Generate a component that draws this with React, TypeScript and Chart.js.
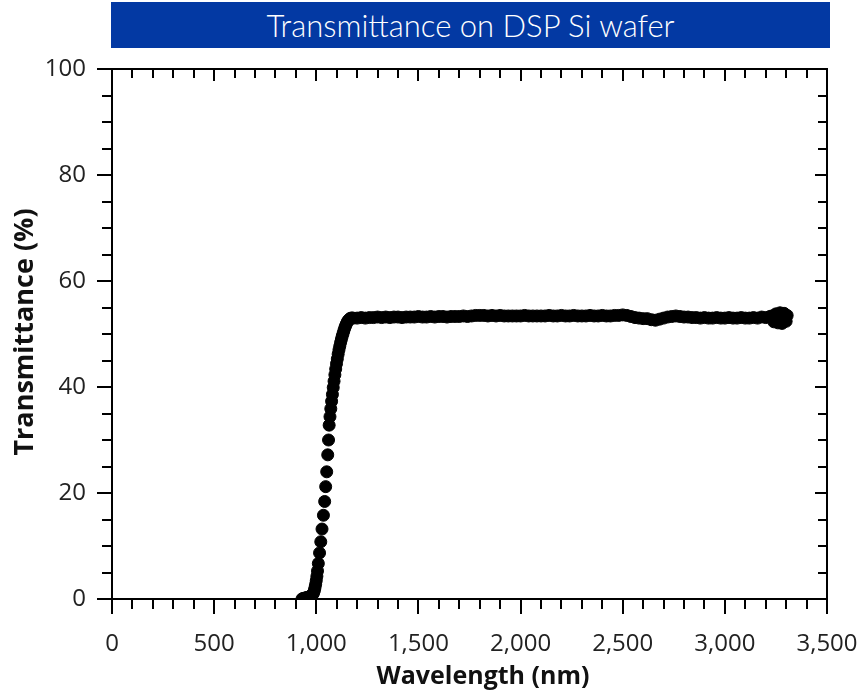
import React, { useEffect, useRef } from "react";
import { Chart, registerables } from "chart.js";

Chart.register(...registerables);

const TITLE = "Transmittance on DSP Si wafer";
const X_TITLE = "Wavelength (nm)";
const Y_TITLE = "Transmittance (%)";

const X_MIN = 0;
const X_MAX = 3500;
const X_MAJOR = 500;
const X_MINOR = 100;
const Y_MIN = 0;
const Y_MAX = 100;
const Y_MAJOR = 20;
const Y_MINOR = 5;

// absorption edge
const riseWavelengths = [
  930, 935, 940, 945, 950, 955, 960, 965, 970, 975, 980, 985, 988, 991, 994, 997, 1000, 1003, 1006,
  1010, 1016, 1022, 1028, 1035, 1041, 1046, 1051, 1056, 1060, 1063,
  1067, 1071, 1075, 1079, 1083, 1087, 1091, 1095, 1099, 1103, 1107, 1111, 1115, 1119, 1123, 1127,
  1131, 1135, 1139, 1143, 1147, 1151, 1155, 1160, 1165, 1170, 1175,
];
const riseValues = [
  0.0, 0.1, 0.1, 0.2, 0.2, 0.3, 0.3, 0.4, 0.5, 0.6, 0.8, 1.0, 1.3, 1.7, 2.2, 2.8, 3.5, 4.3, 5.3,
  6.7, 8.7, 10.8, 13.2, 15.8, 18.4, 21.2, 24.0, 27.2, 30.0, 32.8,
  34.4, 35.9, 37.3, 38.6, 39.9, 41.1, 42.3, 43.4, 44.4, 45.3, 46.2, 47.0, 47.7, 48.4, 49.0, 49.6,
  50.1, 50.6, 51.1, 51.5, 51.9, 52.2, 52.5, 52.7, 52.9, 53.0, 53.0,
];

// transparent plateau
const plateauWavelengths = [
  1180, 1200, 1220, 1240, 1260, 1280, 1300, 1320, 1340, 1360, 1380, 1400, 1420, 1440, 1460, 1480,
  1500, 1520, 1540, 1560, 1580, 1600, 1620, 1640, 1660, 1680, 1700, 1720, 1740, 1760, 1780, 1800,
  1820, 1840, 1860, 1880, 1900, 1920, 1940, 1960, 1980, 2000, 2020, 2040, 2060, 2080, 2100, 2120,
  2140, 2160, 2180, 2200, 2220, 2240, 2260, 2280, 2300, 2320, 2340, 2360, 2380, 2400, 2420, 2440,
  2460, 2480, 2500, 2520, 2540, 2560, 2580, 2600, 2620, 2640, 2660, 2680, 2700, 2720, 2740, 2760,
  2780, 2800, 2820, 2840, 2860, 2880, 2900, 2920, 2940, 2960, 2980, 3000, 3020, 3040, 3060, 3080,
  3100, 3120, 3140, 3160, 3180, 3200, 3220,
];
const plateauValues = [
  53.0, 53.0, 53.1, 53.0, 53.1, 53.1, 53.2, 53.1, 53.2, 53.1, 53.2, 53.2, 53.1, 53.2, 53.2, 53.2,
  53.3, 53.2, 53.2, 53.3, 53.2, 53.3, 53.3, 53.2, 53.3, 53.3, 53.3, 53.4, 53.3, 53.4, 53.5, 53.5,
  53.5, 53.4, 53.5, 53.4, 53.5, 53.4, 53.4, 53.4, 53.4, 53.4, 53.5, 53.4, 53.4, 53.4, 53.4, 53.4,
  53.5, 53.4, 53.4, 53.5, 53.4, 53.4, 53.5, 53.4, 53.4, 53.4, 53.5, 53.4, 53.4, 53.5, 53.4, 53.4,
  53.5, 53.5, 53.6, 53.5, 53.3, 53.1, 53.0, 52.9, 52.9, 52.7, 52.6, 52.8, 53.0, 53.2, 53.3, 53.4,
  53.3, 53.2, 53.2, 53.1, 53.1, 53.0, 53.1, 53.0, 53.0, 53.1, 53.0, 53.0, 53.1, 53.0, 53.0, 53.1,
  53.0, 53.0, 53.1, 53.0, 53.2, 53.1, 53.3,
];

// noisy detector end
const tailWavelengths = [3230, 3240, 3250, 3260, 3270, 3280, 3290, 3300, 3305];
const tailValues = [53.4, 52.3, 53.8, 52.1, 54.0, 52.0, 53.9, 52.4, 53.5];

const wavelengths = [...riseWavelengths, ...plateauWavelengths, ...tailWavelengths];
const transmittance = [...riseValues, ...plateauValues, ...tailValues];

const TICK_FONT = "'Open Sans', 'Noto Sans', sans-serif";

const framePlugin = {
  id: "frameTicks",
  afterDraw(chart: any) {
    const { ctx, chartArea: a, scales } = chart;
    const xs = scales.x;
    const ys = scales.y;
    ctx.save();
    ctx.strokeStyle = "#000";
    ctx.lineWidth = 2;
    ctx.lineCap = "butt";
    ctx.beginPath();
    ctx.rect(a.left, a.top, a.right - a.left, a.bottom - a.top);
    ctx.stroke();

    ctx.beginPath();
    for (let v = X_MIN; v <= X_MAX; v += X_MINOR) {
      const px = Math.round(xs.getPixelForValue(v));
      const major = v % X_MAJOR === 0;
      const outLen = major ? 15 : 10;
      const inLen = major ? 12 : 9;
      ctx.moveTo(px, a.bottom);
      ctx.lineTo(px, a.bottom + outLen);
      ctx.moveTo(px, a.top);
      ctx.lineTo(px, a.top + inLen);
    }
    for (let v = Y_MIN; v <= Y_MAX; v += Y_MINOR) {
      const py = Math.round(ys.getPixelForValue(v));
      const major = v % Y_MAJOR === 0;
      const outLen = major ? 15 : 10;
      const inLen = major ? 12 : 9;
      ctx.moveTo(a.left, py);
      ctx.lineTo(a.left - outLen, py);
      ctx.moveTo(a.right, py);
      ctx.lineTo(a.right - inLen, py);
    }
    ctx.stroke();

    ctx.fillStyle = "#111";
    ctx.textAlign = "center";
    ctx.textBaseline = "middle";
    ctx.font = `bold 25px ${TICK_FONT}`;
    ctx.fillText(X_TITLE, 483, 677);
    ctx.translate(25, 332);
    ctx.rotate(-Math.PI / 2);
    ctx.font = `bold 27px ${TICK_FONT}`;
    ctx.fillText(Y_TITLE, 0, 0);
    ctx.restore();
  },
};

export default function App() {
  const canvasRef = useRef<HTMLCanvasElement | null>(null);

  useEffect(() => {
    document.body.style.margin = "0";
    const canvas = canvasRef.current;
    if (!canvas) return;
    const points = wavelengths.map((w, i) => ({ x: w, y: transmittance[i] }));
    const chart = new Chart(canvas, {
      type: "scatter",
      data: {
        datasets: [
          {
            label: "Transmittance",
            data: points,
            backgroundColor: "#000",
            borderColor: "#000",
            borderWidth: 1,
            pointRadius: 6,
            pointHoverRadius: 6,
            showLine: false,
          },
        ],
      },
      options: {
        animation: false,
        responsive: false,
        maintainAspectRatio: false,
        devicePixelRatio: 1,
        layout: { padding: { left: 0, right: 37, top: 69, bottom: 0 } },
        plugins: {
          legend: { display: false },
          tooltip: { enabled: false },
          title: { display: false },
        },
        scales: {
          x: {
            type: "linear",
            min: X_MIN,
            max: X_MAX,
            grid: { display: false },
            border: { display: false },
            afterFit: (s: any) => {
              s.height = 99;
              s.paddingLeft = 0;
              s.paddingRight = 0;
            },
            ticks: {
              stepSize: X_MAJOR,
              padding: 23,
              color: "#222",
              font: { family: TICK_FONT, size: 24 },
              maxRotation: 0,
              callback: (v: any) => Number(v).toLocaleString("en-US"),
            },
          },
          y: {
            type: "linear",
            min: Y_MIN,
            max: Y_MAX,
            grid: { display: false },
            border: { display: false },
            afterFit: (s: any) => {
              s.width = 112;
              s.paddingTop = 0;
              s.paddingBottom = 0;
            },
            ticks: {
              stepSize: Y_MAJOR,
              padding: 18,
              color: "#222",
              font: { family: TICK_FONT, size: 24 },
            },
          },
        },
      },
      plugins: [framePlugin],
    });
    return () => chart.destroy();
  }, []);

  return (
    <div style={{ position: "absolute", left: 0, top: 0, width: 864, height: 698, background: "#fff" }}>
      <div
        style={{
          position: "absolute",
          left: 111,
          top: 2,
          width: 719,
          height: 46,
          background: "#0339a3",
          color: "#fff",
          fontFamily: "Lato, 'Open Sans', sans-serif",
          fontWeight: 300,
          fontSize: 31,
          lineHeight: "46px",
          textAlign: "center",
          whiteSpace: "nowrap",
        }}
      >
        {TITLE}
      </div>
      <canvas ref={canvasRef} width={864} height={698} style={{ position: "absolute", left: 0, top: 0 }} />
    </div>
  );
}
